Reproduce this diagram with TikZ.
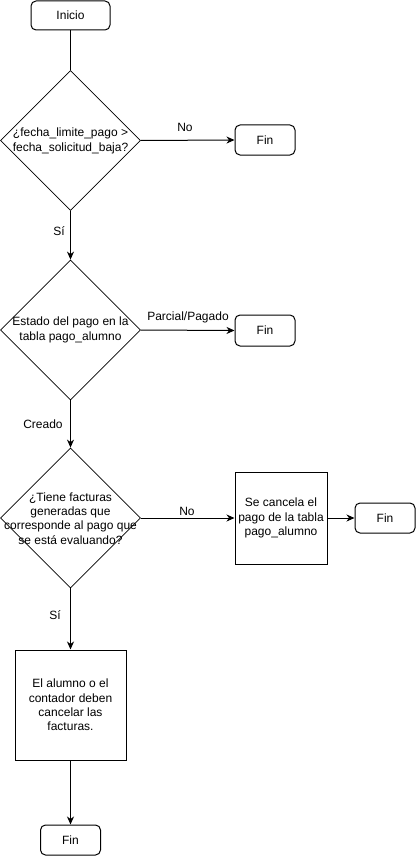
\documentclass[tikz,border=0pt]{standalone}
\usepackage{fontspec}
\setmainfont{Liberation Sans}
\usetikzlibrary{shapes.geometric,arrows.meta}
\begin{document}
\begin{tikzpicture}[x=1pt,y=-1pt,
  font=\fontsize{12}{14.3}\selectfont,
  term/.style={draw, rounded corners=5pt, minimum width=60pt, minimum height=30pt, inner sep=0pt, line width=1pt},
  procbox/.style={draw, inner sep=0pt, line width=1pt},
  decision/.style={draw, diamond, aspect=1, minimum width=140pt, minimum height=140pt, inner sep=0pt, line width=0.8pt},
  txt/.style={align=center, inner sep=0pt},
  lbl/.style={inner sep=0pt},
  conn/.style={line width=1pt},
  arr/.style={line width=1pt, -{Stealth[length=8pt,width=7pt,inset=2.5pt]}}
]
\useasboundingbox (0,0) rectangle (416,856);

\node[term, minimum width=79pt, minimum height=29pt] (inicio) at (70.5,15.5) {Inicio};

\node[decision] (d1) at (70.5,140.5) {};
\node[txt] (t1) at (70.5,141) {¿fecha\_limite\_pago >\\fecha\_solicitud\_baja?};
\node[term] (fin1) at (265,140) {Fin};

\node[decision] (d2) at (70.5,330) {};
\node[txt] (t2) at (70.5,330) {Estado del pago en la\\tabla pago\_alumno};
\node[term, minimum height=31pt] (fin2) at (265,330.5) {Fin};

\node[decision] (d3) at (70.5,518) {};
\node[txt] (t3) at (70.5,518.5) {¿Tiene facturas\\generadas que\\corresponde al pago que\\se está evaluando?};
\node[procbox, minimum width=92pt, minimum height=92pt, txt] (r1) at (281,518) {Se cancela el\\pago de la tabla\\pago\_alumno};
\node[term] (fin3) at (385,518) {Fin};

\node[procbox, minimum width=111pt, minimum height=110pt, txt] (r2) at (70.5,705) {El alumno o el\\contador deben\\cancelar las\\facturas.};
\node[term] (fin4) at (70.5,840) {Fin};

\node[lbl] (l1) at (185,127) {No};
\node[lbl] (l2) at (59,231) {Sí};
\node[lbl] (l3) at (188,317) {Parcial/Pagado};
\node[lbl] (l4) at (43,424) {Creado};
\node[lbl] (l5) at (187,511) {No};
\node[lbl] (l6) at (55,615) {Sí};

\draw[conn] (inicio.south) -- (d1.north);
\draw[arr] (d1.east) -- (fin1.west);
\draw[arr] (d1.south) -- (d2.north);
\draw[arr] (d2.east) -- (fin2.west);
\draw[arr] (d2.south) -- (d3.north);
\draw[arr] (d3.east) -- (r1.west);
\draw[arr] (r1.east) -- (fin3.west);
\draw[arr] (d3.south) -- (r2.north);
\draw[arr] (r2.south) -- (fin4.north);
\end{tikzpicture}
\end{document}
